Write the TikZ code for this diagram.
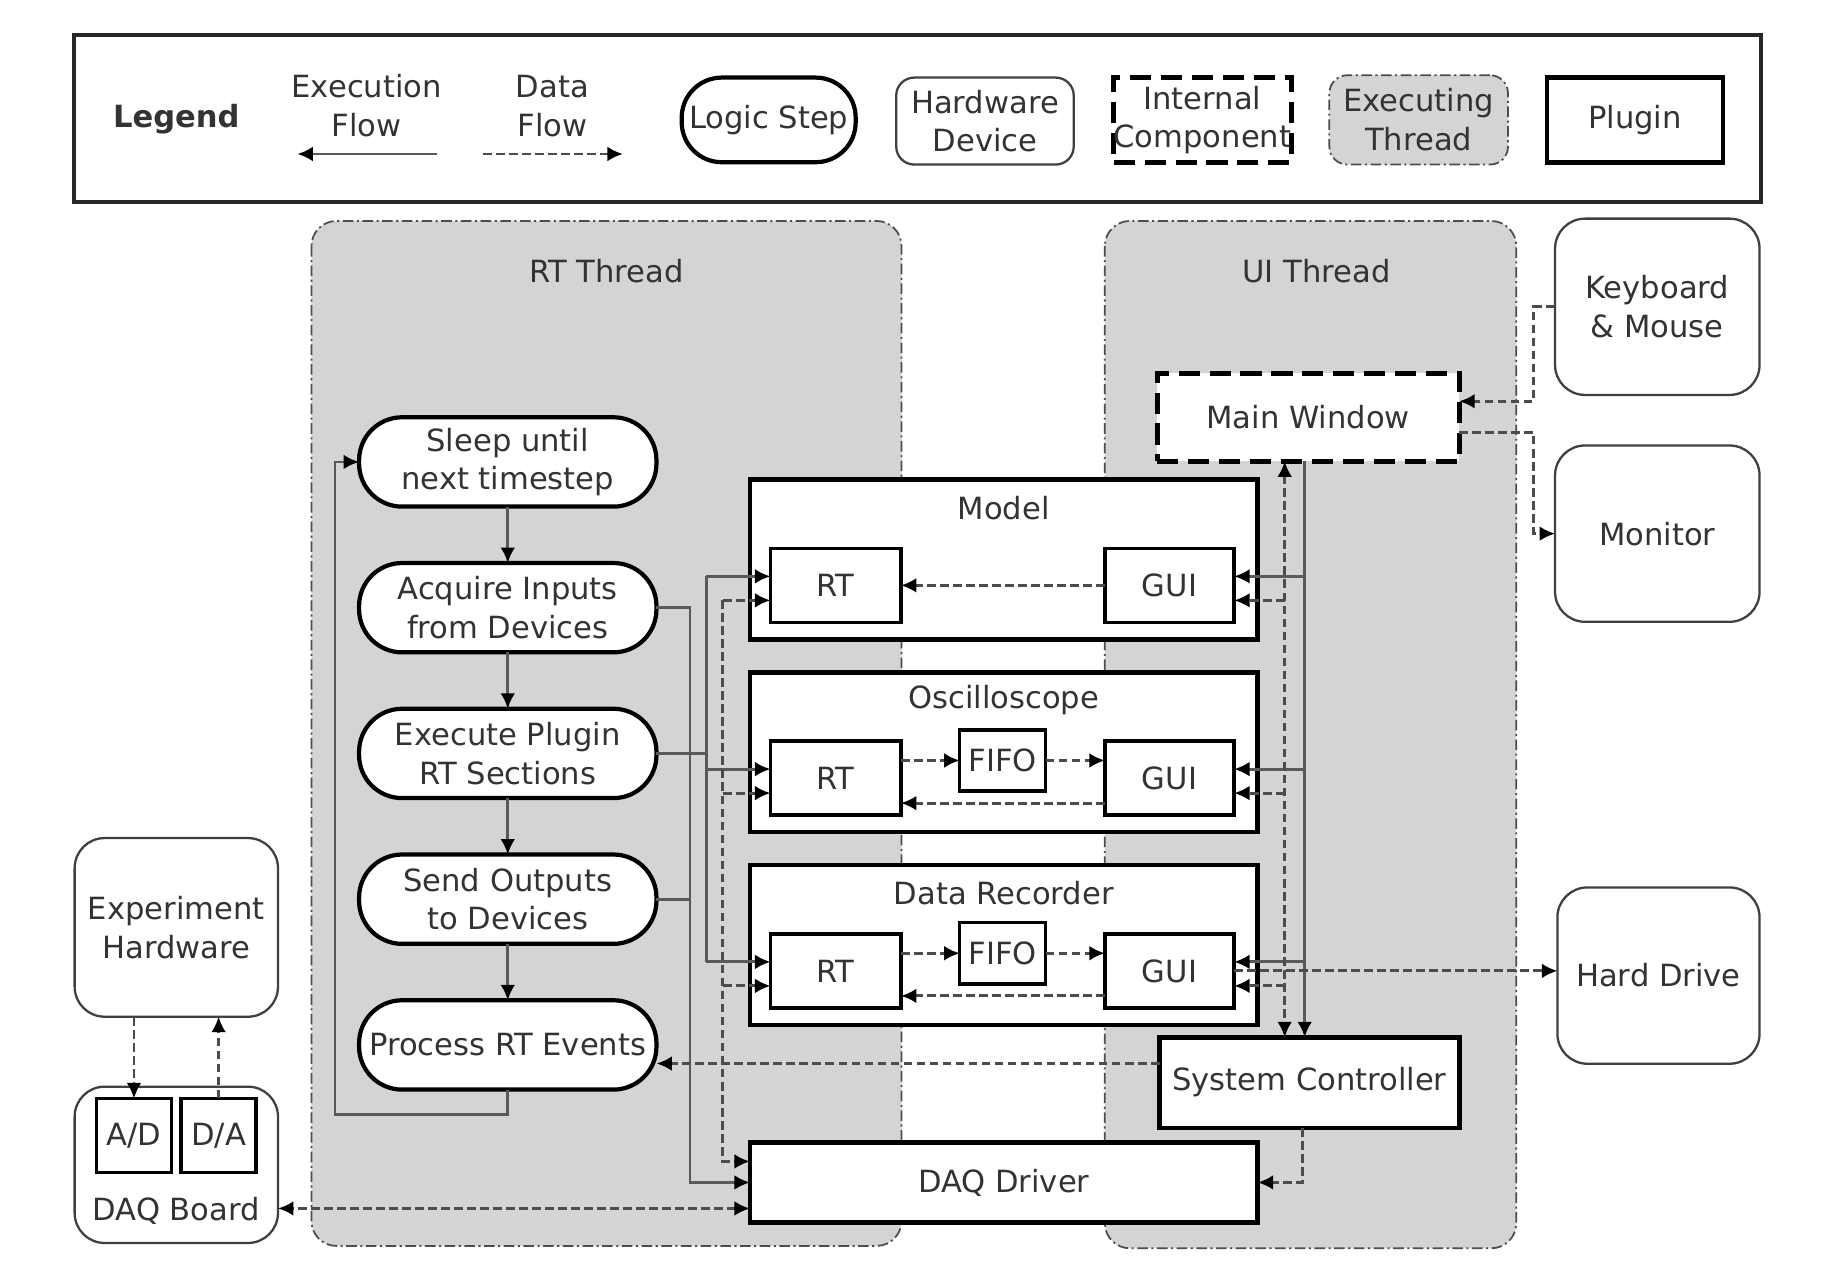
\documentclass[tikz,border=0pt]{standalone}
\usepackage{fontspec}
\setmainfont{DejaVu Sans}
\usetikzlibrary{arrows.meta}
\newcommand{\px}{0.011754cm}

\begin{document}
\begin{tikzpicture}[
    x=\px, y=-\px,
    font=\fontsize{8.7}{11}\selectfont,
    text=black!80,
    >={Latex[length=4.4pt,width=4.2pt,color=black]},
    dims/.style 2 args={minimum width=#1*\px, minimum height=#2*\px, inner sep=0pt, outer sep=0pt},
    logic/.style={draw=black, line width=1.2pt, fill=white, rounded corners=0.43cm, align=center},
    hw/.style={draw=black!75, line width=0.65pt, fill=white, rounded corners=0.3cm, align=center},
    comp/.style={draw=black, line width=1.4pt, dash pattern=on 6pt off 2.8pt, fill=white, align=center},
    plug/.style={draw=black, line width=1.3pt, fill=white, align=center},
    sub/.style={draw=black, line width=1pt, fill=white},
    thread/.style={draw=black!70, line width=0.5pt, fill=black!17, rounded corners=0.25cm,
        dash pattern=on 3pt off 1pt on 0.6pt off 1pt},
    flow/.style={draw=black!65, line width=0.8pt},
    data/.style={draw=black!70, line width=0.8pt, dash pattern=on 2.5pt off 1.2pt}
    ]
    \useasboundingbox (0,0) rectangle (1568,1081);

    % Legend:
    \draw[line width=1.2pt, draw=black!85] (63,30) rectangle (1498,172);
    \node[font=\fontsize{8.7}{11}\selectfont\bfseries] (legend) at (150,101) {Legend};
    \node[align=center] (exectxt) at (312,90) {Execution\\Flow};
    \coordinate (execA) at (372,131);
    \coordinate (execB) at (253,131);
    \draw[flow,->] (execA) -- (execB);
    \node[align=center] (datatxt) at (470,90) {Data\\Flow};
    \coordinate (dataA) at (411,131);
    \coordinate (dataB) at (530,131);
    \draw[data,->] (dataA) -- (dataB);
    \node[logic, dims={148}{72}, rounded corners=0.4cm] (lglogic) at (654,102) {Logic Step};
    \node[hw, dims={151}{74}, rounded corners=0.18cm] (lghw) at (838,103) {Hardware\\Device};
    \node[comp, dims={151}{72}] (lgcomp) at (1023,102) {Internal\\Component};
    \node[thread, dims={152}{76}, rounded corners=0.18cm, align=center] (lgthread) at (1207,102) {Executing\\Thread};
    \node[plug, dims={150}{72}] (lgplug) at (1391,102) {Plugin};

    % Threads:
    \draw[thread] (265,188) rectangle (767,1060);
    \node (rtlabel) at (516,231) {RT Thread};
    \draw[thread] (940,188) rectangle (1290,1062);
    \node (uilabel) at (1120,231) {UI Thread};

    % Hardware devices:
    \node[hw, dims={174}{150}] (kbd) at (1410,261) {Keyboard\\\& Mouse};
    \node[hw, dims={174}{150}] (monitor) at (1410,454) {Monitor};
    \node[hw, dims={172}{150}] (hdd) at (1411,830) {Hard Drive};
    \node[hw, dims={173}{152}] (exp) at (150,789) {Experiment\\Hardware};
    \node[hw, dims={173}{133}] (daqboard) at (150,991) {};
    \node (daqtxt) at (150,1030) {DAQ Board};
    \node[sub, dims={64}{63}] (ad) at (114,966) {A/D};
    \node[sub, dims={64}{63}] (da) at (186,966) {D/A};

    % RT loop:
    \foreach \n/\t/\y in {sleep/{Sleep until\\next timestep}/393,
                          acq/{Acquire Inputs\\from Devices}/517,
                          exec/{Execute Plugin\\RT Sections}/641,
                          send/{Send Outputs\\to Devices}/765,
                          proc/{Process RT Events}/889}
        \node[logic, dims={253}{76}] (\n) at (432,\y) {\t};
    \foreach \a/\b in {sleep/acq, acq/exec, exec/send, send/proc}
        \draw[flow,->] (\a) -- (\b);
    \draw[flow,->] (proc.south) -- ++(0,21) -| (285,393) -- (sleep.west);

    % Plugins:
    \foreach \p/\t/\y in {model/Model/476, osc/Oscilloscope/640, rec/Data Recorder/804} {
        \node[plug, dims={432}{136}] (\p) at (854,\y) {};
        \node (\p title) at (854,\y-44) {\t};
        \node[sub, dims={111}{63}] (\p rt) at (711,\y+22) {RT};
        \node[sub, dims={110}{63}] (\p gui) at (995,\y+22) {GUI};
    }
    \draw[data,->] (modelgui) -- (modelrt);
    \foreach \p/\y in {osc/640, rec/804} {
        \node[sub, dims={73}{52}] (\p fifo) at (853,\y+7) {FIFO};
        \draw[data,->] (\p rt.east |- \p fifo) -- (\p fifo);
        \draw[data,->] (\p fifo) -- (\p fifo -| \p gui.west);
        \draw[data,->] ([yshift=-0.25cm]\p gui.west) -- ([yshift=-0.25cm]\p rt.east);
    }

    \node[comp, dims={257}{75}] (mainwin) at (1113,355) {Main Window};
    \node[plug, dims={255}{77}] (sysctl) at (1114,921) {System Controller};
    \node[plug, dims={432}{68}] (drv) at (854,1006) {DAQ Driver};

    % buses
    \coordinate (acqbus) at (587,0);
    \coordinate (execbus) at (601,0);
    \coordinate (daqbus) at (615,0);
    \coordinate (winbus) at (1093,0);
    \coordinate (ctlbus) at (1110,0);
    \coordinate (sidebus) at (1305,0);
    \coordinate (drvhi) at ([yshift=0.21cm]drv.west);
    \coordinate (drvlo) at ([yshift=-0.26cm]drv.west);

    \foreach \p in {model,osc,rec} {
        \coordinate (\p rthi) at ([yshift=0.09cm]\p rt.west);
        \coordinate (\p rtlo) at ([yshift=-0.15cm]\p rt.west);
        \coordinate (\p guihi) at ([yshift=0.09cm]\p gui.east);
        \coordinate (\p guilo) at ([yshift=-0.15cm]\p gui.east);
        \draw[flow,->] (execbus |- \p rthi) -- (\p rthi);
        \draw[data,->] (daqbus |- \p rtlo) -- (\p rtlo);
        \draw[flow,->] (ctlbus |- \p guihi) -- (\p guihi);
        \draw[data,->] (winbus |- \p guilo) -- (\p guilo);
    }

    % RT side
    \draw[flow] (execbus |- modelrthi) -- (execbus |- recrthi);
    \draw[flow] (exec.east) -- (exec.east -| execbus);
    \draw[flow,->] (acq.east) -| (acqbus |- drv.west) -- (drv.west);
    \draw[flow] (send.east) -- (send.east -| acqbus);
    \draw[data,->] (daqbus |- modelrtlo) -- (daqbus |- drvhi) -- (drvhi);
    \draw[data,<->] (drvlo) -- (drvlo -| daqboard.east);

    % UI side
    \draw[flow,->] (mainwin.south -| ctlbus) -- (sysctl.north -| ctlbus);
    \draw[data,<->] (mainwin.south -| winbus) -- (sysctl.north -| winbus);
    \draw[data,->] (recgui.east) -- (recgui.east -| hdd.west);
    \coordinate (mwin) at ([yshift=0.16cm]mainwin.east);
    \coordinate (mwout) at ([yshift=-0.15cm]mainwin.east);
    \draw[data,->] (kbd.west) -| (sidebus |- mwin) -- (mwin);
    \draw[data,->] (mwout) -| (sidebus |- monitor.west) -- (monitor.west);
    \coordinate (scout) at ([yshift=0.19cm]sysctl.west);
    \draw[data,->] (scout) -- (scout -| proc.east);
    \draw[data,->] ([xshift=-0.07cm]sysctl.south) |- (drv.east);

    % DAQ board
    \draw[data,->] (exp.south -| ad) -- (ad.north);
    \draw[data,->] (da.north) -- (da.north |- exp.south);
\end{tikzpicture}
\end{document}
